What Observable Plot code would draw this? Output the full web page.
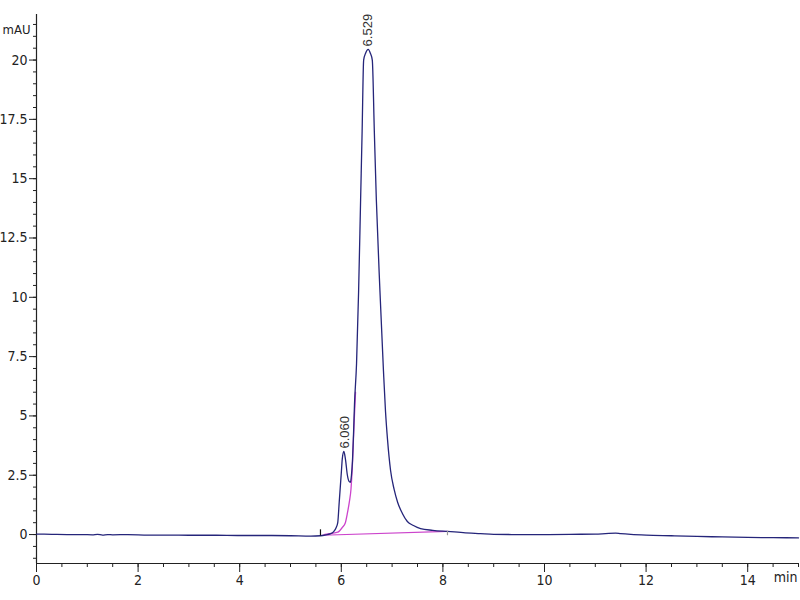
<!DOCTYPE html>
<html>
<head>
<meta charset="utf-8">
<script src="https://cdn.jsdelivr.net/npm/d3@7"></script>
<script src="https://cdn.jsdelivr.net/npm/@observablehq/plot@0.6"></script>
<style>
  html, body { margin: 0; padding: 0; background: #fff; }
  #chart svg { display: block; }
</style>
</head>
<body>
<div id="chart"></div>
<script>
// Chromatogram signal (min, mAU)
const times = [0, 0.3, 0.6, 0.9, 1.1, 1.2, 1.3, 1.4, 1.5, 1.8, 2.2, 2.6, 3.0, 3.5, 4.0, 4.5, 5.0, 5.4, 5.59,
  5.70, 5.78, 5.85, 5.90, 5.93, 5.96, 6.00, 6.02, 6.05, 6.08, 6.12, 6.15, 6.18, 6.20, 6.22, 6.24, 6.26, 6.30,
  6.34, 6.38, 6.41, 6.44, 6.48, 6.53, 6.57, 6.61, 6.65, 6.69, 6.76, 6.83, 6.87, 6.91, 6.97, 7.04, 7.11, 7.20,
  7.30, 7.42, 7.56, 7.80, 8.09, 8.40, 8.74, 9.0, 9.5, 10.0, 10.5, 11.0, 11.2, 11.4, 11.5, 11.7, 12.0, 12.5,
  13.0, 13.5, 14.0, 14.5, 15.0];
const signal = [0.02, 0.01, 0.0, 0.0, -0.01, 0.01, -0.02, 0.0, -0.01, 0.0, -0.02, -0.02, -0.03, -0.03, -0.04, -0.04, -0.05, -0.07, -0.05,
  -0.01, 0.03, 0.12, 0.3, 0.5, 1.4, 2.6, 3.2, 3.5, 3.2, 2.5, 2.25, 2.2, 2.5, 3.1, 4.2, 5.5, 7.2,
  10.2, 14.1, 17.0, 20.0, 20.3, 20.45, 20.3, 20.0, 17.0, 14.1, 10.3, 6.9, 5.2, 4.0, 2.7, 1.9, 1.35, 0.9,
  0.55, 0.38, 0.25, 0.18, 0.13, 0.08, 0.04, 0.01, 0.0, 0.0, 0.01, 0.02, 0.04, 0.06, 0.04, 0.01, -0.02, -0.05,
  -0.08, -0.10, -0.12, -0.13, -0.14];

// Fitted main-peak leading edge (magenta)
const fitTimes = [5.66, 5.80, 5.93, 6.02, 6.08, 6.12, 6.16, 6.19, 6.22, 6.25, 6.28];
const fitValues = [0.0, 0.05, 0.1, 0.3, 0.5, 0.9, 1.4, 1.9, 3.0, 4.6, 6.0];

// Integration baseline (magenta)
const baseTimes = [5.62, 8.09];
const baseValues = [-0.03, 0.13];

// Peak labels
const peakTimes = [6.06, 6.529];
const peakHeights = [3.5, 20.45];
const peakLabels = ["6.060", "6.529"];

// Integration markers
const markerTimes = [5.59, 8.09];
const markerLow = [-0.06, -0.05];
const markerHigh = [0.2, 0.13];
const markerColors = ["#111", "#999"];

// Axes
const xDomain = [0, 15];
const yDomain = [-1.22, 21.92];
const xMajor = [0, 2, 4, 6, 8, 10, 12, 14];
const xMinor = d3.range(0, 15.01, 0.5);
const yMajor = [0, 2.5, 5, 7.5, 10, 12.5, 15, 17.5, 20];
const yMinor = d3.range(-1, 21.6, 0.5);

const signalData = times.map((t, i) => ({t, v: signal[i]}));
const fitData = fitTimes.map((t, i) => ({t, v: fitValues[i]}));
const baseData = baseTimes.map((t, i) => ({t, v: baseValues[i]}));
const peakData = peakTimes.map((t, i) => ({t, v: peakHeights[i], label: peakLabels[i]}));
const markerData = markerTimes.map((t, i) => ({t, lo: markerLow[i], hi: markerHigh[i], c: markerColors[i]}));

const tickFont = "'Liberation Sans Narrow', 'Arial Narrow', 'DejaVu Sans Condensed', sans-serif";

const chart = Plot.plot({
  width: 800,
  height: 600,
  marginLeft: 36,
  marginRight: 2,
  marginTop: 14,
  marginBottom: 37,
  x: {domain: xDomain, label: null},
  y: {domain: yDomain, label: null},
  style: {fontFamily: tickFont, fontSize: "14px", color: "#222", background: "#fff"},
  marks: [
    Plot.axisY(yMinor, {tickSize: 3, tickFormat: () => "", label: null, stroke: "#222"}),
    Plot.axisY(yMajor, {tickSize: 7, tickPadding: 2, tickFormat: d => String(d), label: null, stroke: "#222", fontSize: 14}),
    Plot.axisX(xMinor, {tickSize: 4, tickFormat: () => "", label: null, stroke: "#222"}),
    Plot.axisX(xMajor, {tickSize: 9, tickPadding: 3, tickFormat: d => String(d), label: null, stroke: "#222", fontSize: 14}),
    Plot.ruleX([xDomain[0]], {stroke: "#222", strokeWidth: 1.2}),
    Plot.ruleY([yDomain[0]], {stroke: "#222", strokeWidth: 1.2}),
    Plot.text(["min"], {frameAnchor: "bottom-right", textAnchor: "end", dx: -1, dy: 18, fontSize: 14, fill: "#222"}),
    Plot.text(["mAU"], {frameAnchor: "top-left", textAnchor: "start", dx: -34, dy: 10, fontSize: 13, fill: "#222"}),
    Plot.line(baseData, {x: "t", y: "v", stroke: "#cc44cc", strokeWidth: 1.2}),
    Plot.line(fitData, {x: "t", y: "v", stroke: "#cc44cc", strokeWidth: 1.3, curve: "monotone-x"}),
    Plot.line(signalData, {x: "t", y: "v", stroke: "#25257a", strokeWidth: 1.3, curve: "monotone-x"}),
    Plot.ruleX(markerData, {x: "t", y1: "lo", y2: "hi", stroke: "c", strokeWidth: 1.2}),
    Plot.text(peakData, {x: "t", y: "v", text: "label", rotate: -90, textAnchor: "start", lineAnchor: "middle",
      dy: -3, fontSize: 13, fill: "#333", fontFamily: "'Liberation Sans', Arial, sans-serif"})
  ]
});
document.getElementById("chart").appendChild(chart);
</script>
</body>
</html>
